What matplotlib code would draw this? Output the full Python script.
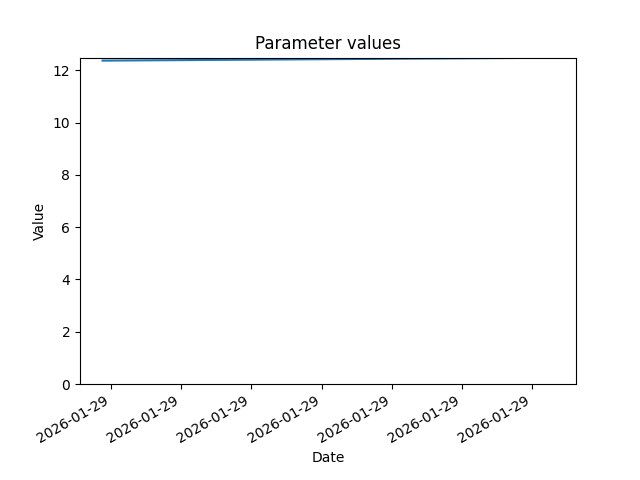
import matplotlib
matplotlib.use("Agg")
import matplotlib.pyplot as plt
import matplotlib.dates as mdates
import pandas as pd

# Timestamps (all on the same day) and parameter values
dates = pd.to_datetime([
    "2026-01-29 09:59:53",
    "2026-01-29 10:01:10",
    "2026-01-29 10:02:27",
    "2026-01-29 10:03:44",
    "2026-01-29 10:05:01",
    "2026-01-29 10:06:18",
])
values = [12.37, 12.392, 12.414, 12.436, 12.458, 12.48]

fig, ax = plt.subplots(figsize=(6.4, 4.8), dpi=100)
ax.plot(dates, values)
ax.set_ylim(bottom=0)
ax.xaxis.set_major_formatter(mdates.DateFormatter("%Y-%m-%d"))
fig.autofmt_xdate()

ax.set_title("Parameter values")
ax.set_xlabel("Date")
ax.set_ylabel("Value")

fig.savefig("out.png")
